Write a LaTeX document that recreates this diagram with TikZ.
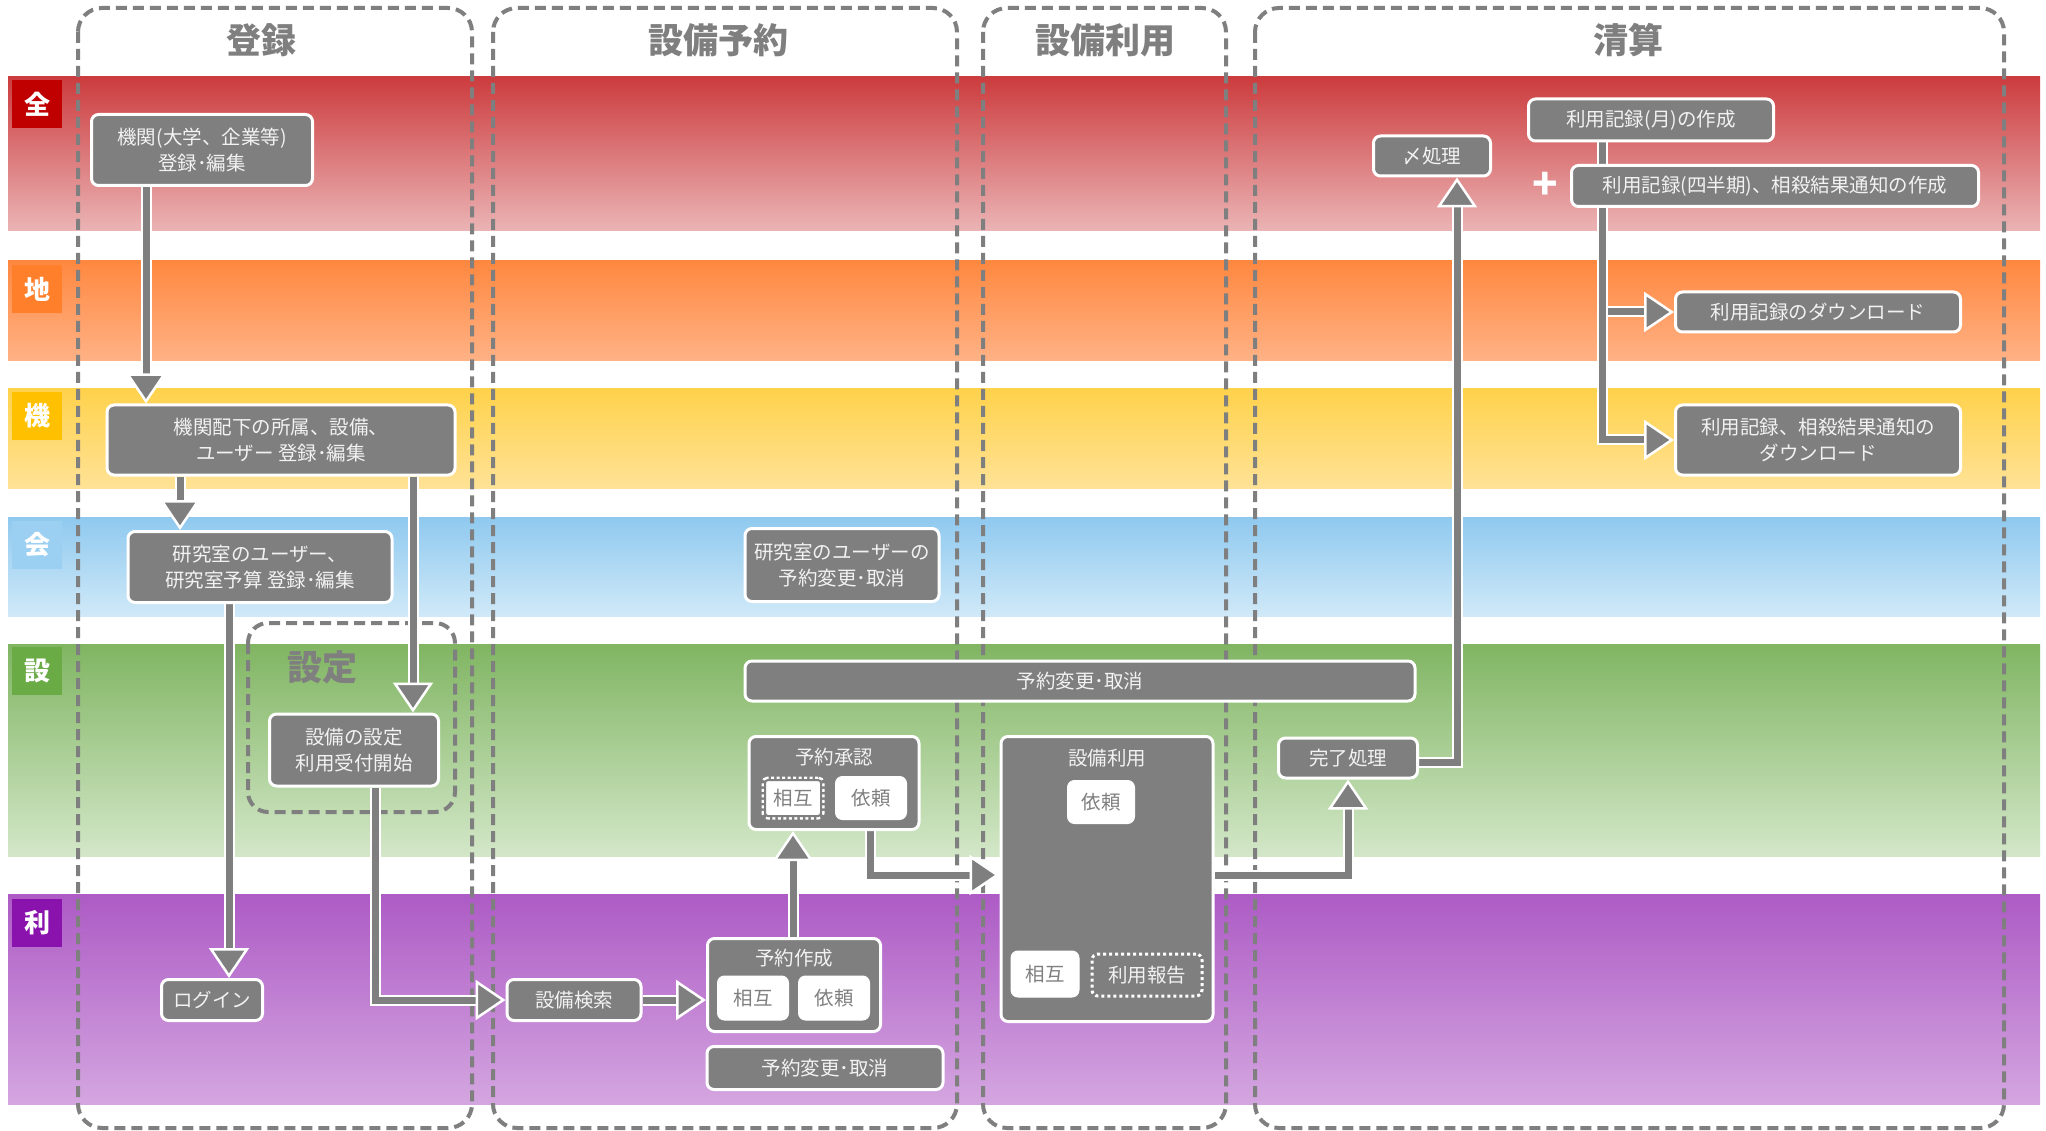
\documentclass[tikz,border=0pt]{standalone}
\usepackage{fontspec}
\setmainfont{Noto Sans CJK JP}
\usetikzlibrary{arrows.meta,calc}
\pgfdeclarelayer{back}
\pgfdeclarelayer{conn}
\pgfsetlayers{back,conn,main}
\definecolor{ng}{HTML}{7F7F7F}
\definecolor{tw}{HTML}{F2F2F2}
\definecolor{rT}{HTML}{CC3C3E}\definecolor{rB}{HTML}{EBB4B5}\definecolor{rL}{HTML}{C00000}
\definecolor{oT}{HTML}{FF8840}\definecolor{oB}{HTML}{FFB286}\definecolor{oL}{HTML}{FF7F2A}
\definecolor{yT}{HTML}{FFD24C}\definecolor{yB}{HTML}{FFE296}\definecolor{yL}{HTML}{FFC000}
\definecolor{bT}{HTML}{8FC9EF}\definecolor{bB}{HTML}{D0E9F8}\definecolor{bL}{HTML}{9BD0F2}
\definecolor{gT}{HTML}{80B562}\definecolor{gB}{HTML}{D3E7C8}\definecolor{gL}{HTML}{6AAB46}
\definecolor{pT}{HTML}{AD5BC5}\definecolor{pB}{HTML}{D4A6E0}\definecolor{pL}{HTML}{8A12AD}
\newcommand\nodefont{\fontsize{19.5}{26}\selectfont}
\newcommand\titlefont{\fontsize{35}{40}\selectfont\bfseries}
\newcommand\lanefont{\fontsize{26}{30}\selectfont\bfseries}
\newcommand\plusfont{\fontsize{42}{44}\selectfont\bfseries}
\tikzset{
  box/.style={draw=white, line width=3pt, fill=ng, rounded corners=7pt, text=tw,
    font=\nodefont, align=center, inner sep=0pt},
  ttl/.style={text=tw, font=\nodefont, inner sep=0pt},
  wbox/.style={fill=white, draw=white, line width=1pt, rounded corners=7pt, text=ng,
    font=\nodefont, inner sep=0pt},
  dwbox/.style={fill=white, draw=ng, line width=2pt, rounded corners=3pt, text=ng,
    font=\nodefont, inner sep=0pt,
    preaction={draw=white, line width=7pt, dash pattern=on 3pt off 2.5pt}},
  dgbox/.style={fill=ng, draw=white, line width=3pt, dash pattern=on 3pt off 3pt,
    rounded corners=6pt, text=tw, font=\nodefont, inner sep=0pt},
  col/.style={draw=ng, line width=4pt, dash pattern=on 11pt off 6pt, rounded corners=24pt},
  coltitle/.style={text=ng, font=\titlefont, inner sep=0pt},
  lane/.style={minimum width=50pt, minimum height=48pt, inner sep=0pt, text=white, font=\lanefont},
  flow/.style={line width=7pt, draw=ng,
    -{Triangle[length=30pt,width=40pt,line width=2.5pt,color=white,fill=ng]},
    preaction={draw=white, line width=11pt, -, shorten >=24pt}},
}
\begin{document}
\begin{tikzpicture}[x=1pt,y=-1pt]
\useasboundingbox (0,0) rectangle (2046,1131);
\begin{pgfonlayer}{back}
  \fill[white] (0,0) rectangle (2046,1131);
  % lanes
  \shade[top color=rT, bottom color=rB] (8,77) rectangle (2040,231);
  \shade[top color=oT, bottom color=oB] (8,261) rectangle (2040,361);
  \shade[top color=yT, bottom color=yB] (8,389) rectangle (2040,488);
  \shade[top color=bT, bottom color=bB] (8,517) rectangle (2040,616);
  \shade[top color=gT, bottom color=gB] (8,644) rectangle (2040,856);
  \shade[top color=pT, bottom color=pB] (8,894) rectangle (2040,1104);
  % columns
  \draw[col] (78,8) rectangle (472,1128);
  \draw[col] (493,8) rectangle (957,1128);
  \draw[col] (983,8) rectangle (1226,1128);
  \draw[col] (1255,8) rectangle (2004,1128);
  \draw[col, rounded corners=20pt] (248,623) rectangle (455,812);
\end{pgfonlayer}

% lane labels
\node[lane, fill=rL] (lz) at (37,104) {全};
\node[lane, fill=oL] (lc) at (37,289) {地};
\node[lane, fill=yL] (lk) at (37,416) {機};
\node[lane, fill=bL] (lm) at (37,545) {会};
\node[lane, fill=gL] (ls) at (37,671) {設};
\node[lane, fill=pL] (lr) at (37,923) {利};

% column titles
\node[coltitle] (tReg) at (261,40) {登録};
\node[coltitle] (tRes) at (718,40) {設備予約};
\node[coltitle] (tUse) at (1105,40) {設備利用};
\node[coltitle] (tSet) at (1628,40) {清算};
\node[coltitle] (tCfg) at (322,667) {設定};

% nodes
\node[box, minimum width=221pt, minimum height=71pt] (n1) at (202,150) {機関(大学、企業等)\\登録･編集};
\node[box, minimum width=348pt, minimum height=70pt] (n2) at (281,440) {機関配下の所属、設備、\\ユーザー 登録･編集};
\node[box, minimum width=264pt, minimum height=71pt] (n3) at (260,567) {研究室のユーザー、\\研究室予算 登録･編集};
\node[box, minimum width=169pt, minimum height=72pt] (n4) at (354,750) {設備の設定\\利用受付開始};
\node[box, minimum width=101pt, minimum height=41pt] (login) at (212,1000) {ログイン};
\node[box, minimum width=134pt, minimum height=41pt] (search) at (574,1000) {設備検索};

\node[box, minimum width=173pt, minimum height=93pt] (create) at (794,985) {};
\node[ttl] (createT) at (794,958) {予約作成};
\node[wbox, minimum width=71pt, minimum height=44pt] (createA) at (753,998) {相互};
\node[wbox, minimum width=71pt, minimum height=44pt] (createB) at (834,998) {依頼};
\node[box, minimum width=236pt, minimum height=43pt] (rc1) at (825,1068) {予約変更･取消};

\node[box, minimum width=194pt, minimum height=73pt] (lab) at (842,565) {研究室のユーザーの\\予約変更･取消};
\node[box, minimum width=670pt, minimum height=40pt] (rc2) at (1080,681) {予約変更･取消};

\node[box, minimum width=170pt, minimum height=93pt] (appr) at (834,783) {};
\node[ttl] (apprT) at (834,757) {予約承認};
\node[dwbox, minimum width=56pt, minimum height=36pt] (apprA) at (793,798) {相互};
\node[wbox, minimum width=71pt, minimum height=43pt] (apprB) at (871,798) {依頼};

\node[box, minimum width=212pt, minimum height=285pt] (use) at (1107,879) {};
\node[ttl] (useT) at (1107,758) {設備利用};
\node[wbox, minimum width=67pt, minimum height=43pt] (useB) at (1101,802) {依頼};
\node[wbox, minimum width=68pt, minimum height=46pt] (useA) at (1045,974) {相互};
\node[dgbox, minimum width=110pt, minimum height=42pt] (useR) at (1147,975) {利用報告};

\node[box, minimum width=139pt, minimum height=40pt] (done) at (1348,758) {完了処理};
\node[box, minimum width=117pt, minimum height=40pt] (close) at (1432,156) {〆処理};
\node[box, minimum width=245pt, minimum height=42pt] (month) at (1651,120) {利用記録(月)の作成};
\node[box, minimum width=407pt, minimum height=41pt] (quarter) at (1775,186) {利用記録(四半期)、相殺結果通知の作成};
\node[text=white, font=\plusfont, inner sep=0pt] (plus) at (1545,186) {+};
\node[box, minimum width=285pt, minimum height=40pt] (dl1) at (1818,312) {利用記録のダウンロード};
\node[box, minimum width=285pt, minimum height=70pt] (dl2) at (1818,440) {利用記録、相殺結果通知の\\ダウンロード};

% connectors
\begin{pgfonlayer}{conn}
  \draw[flow] ([xshift=-56pt]n1.south) -- ([xshift=-56pt]n1.south |- n2.north);
  \draw[flow] ([xshift=-101pt]n2.south) -- ([xshift=-101pt]n2.south |- n3.north);
  \draw[flow] ([xshift=132pt]n2.south) -- ([xshift=132pt]n2.south |- n4.north);
  \draw[flow] ([xshift=-31pt]n3.south) -- ([xshift=-31pt]n3.south |- login.north);
  \draw[flow] ([xshift=21pt]n4.south) |- (search.west);
  \draw[flow] (search.east) -- (search.east -| create.west);
  \draw[flow] ([xshift=-1pt]create.north) -- ([xshift=-1pt]create.north |- appr.south);
  \draw[flow] ([xshift=36pt]appr.south) |- ([yshift=4pt]use.west);
  \draw[flow] ([yshift=4pt]use.east) -| (done.south);
  \draw[flow] ([yshift=-4pt]done.east) -| ([xshift=25pt]close.south);
  \draw[flow] ([xshift=-49pt]month.south |- dl1.west) -- (dl1.west);
  \draw[flow] ([xshift=-49pt]month.south) |- (dl2.west);
\end{pgfonlayer}
\end{tikzpicture}
\end{document}
